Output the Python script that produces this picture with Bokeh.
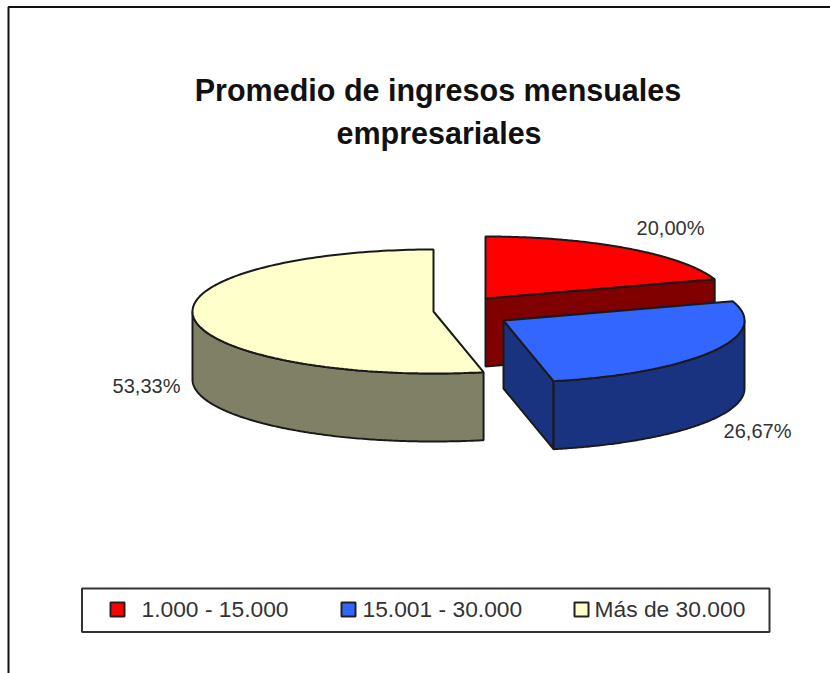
import numpy as np
from bokeh.plotting import figure
from bokeh.models import Range1d
from bokeh.core.properties import value
from bokeh.embed import file_html
from bokeh.resources import INLINE

categories = ["1.000 - 15.000", "15.001 - 30.000", "Más de 30.000"]
shares = [20.00, 26.67, 53.33]
share_labels = ["20,00%", "26,67%", "53,33%"]
top_colors = ["#FF0000", "#3366FF", "#FFFFCC"]
side_colors = ["#800000", "#1A3380", "#808066"]
title_lines = ["Promedio de ingresos mensuales", "empresariales"]

# layout (picture pixels)
centers = [(485, 298), (503, 320), (433, 311)]
RX, RY, DEPTH = 241, 62, 68
EDGE = "#1a1a1a"

p = figure(width=830, height=673, output_backend="svg", toolbar_location=None,
           x_range=Range1d(0, 830), y_range=Range1d(673, 0), min_border=0)
p.axis.visible = False
p.grid.visible = False
p.outline_line_color = None
p.background_fill_color = "white"

# frame
p.line([830, 8, 8], [6.5, 6.5, 673], line_color="#111111", line_width=2)

# cumulative angles from the values
ends = np.cumsum(shares) / sum(shares) * 2 * np.pi
starts = np.concatenate([[0], ends[:-1]])


def pt(c, a, dz=0):
    return c[0] + RX * np.sin(a), c[1] - RY * np.cos(a) + dz


def rim(c, a0, a1, dz=0):
    t = np.linspace(a0, a1, 160)
    return c[0] + RX * np.sin(t), c[1] - RY * np.cos(t) + dz


def wall(i, a):
    c = centers[i]
    ex, ey = pt(c, a)
    p.patch([c[0], ex, ex, c[0]], [c[1], ey, ey + DEPTH, c[1] + DEPTH],
            fill_color=side_colors[i], line_color=EDGE, line_width=2)


def draw_slice(i):
    c, a0, a1 = centers[i], starts[i], ends[i]
    # cut walls that face the viewer
    if 1e-6 < a1 < np.pi:
        wall(i, a1)
    if np.pi < a0 < 2 * np.pi:
        wall(i, a0)
    # curved outer wall on the front half
    f0, f1 = max(a0, np.pi / 2), min(a1, 3 * np.pi / 2)
    if f1 > f0:
        x, y = rim(c, f0, f1)
        xb, yb = rim(c, f0, f1, DEPTH)
        p.patch(np.concatenate([x, xb[::-1]]), np.concatenate([y, yb[::-1]]),
                fill_color=side_colors[i], line_color=EDGE, line_width=2)
    # top face
    x, y = rim(c, a0, a1)
    p.patch(np.concatenate([[c[0]], x]), np.concatenate([[c[1]], y]),
            fill_color=top_colors[i], line_color=EDGE, line_width=2)


for i in (2, 0, 1):
    draw_slice(i)

FONT = value("Liberation Sans")
p.text([437.5], [89.5], text=[title_lines[0]], text_font=FONT, text_font_size="30.5px",
       text_font_style="bold", text_align="center", text_baseline="middle", text_color="#111111")
p.text([438.5], [132.5], text=[title_lines[1]], text_font=FONT, text_font_size="30.5px",
       text_font_style="bold", text_align="center", text_baseline="middle", text_color="#111111")

# data labels
label_x = [670, 757, 146]
label_y = [227, 430, 385]
p.text(label_x, label_y, text=share_labels, text_font=FONT, text_font_size="20px",
       text_align="center", text_baseline="middle", text_color="#333333")

# legend
p.quad(left=[81.5], right=[769], top=[588], bottom=[631.5], fill_color="white",
       line_color="#333333", line_width=2)
swatch_left = [110, 341, 574]
text_left = [141, 362, 594]
p.quad(left=swatch_left, right=[v + 14 for v in swatch_left], top=[602] * 3, bottom=[616] * 3,
       fill_color=top_colors, line_color="#222222", line_width=2)
p.text(text_left, [608.5] * 3, text=categories, text_font=FONT, text_font_size="22.8px",
       text_align="left", text_baseline="middle", text_color="#333333")

open("out.html", "w").write(file_html(p, INLINE))
